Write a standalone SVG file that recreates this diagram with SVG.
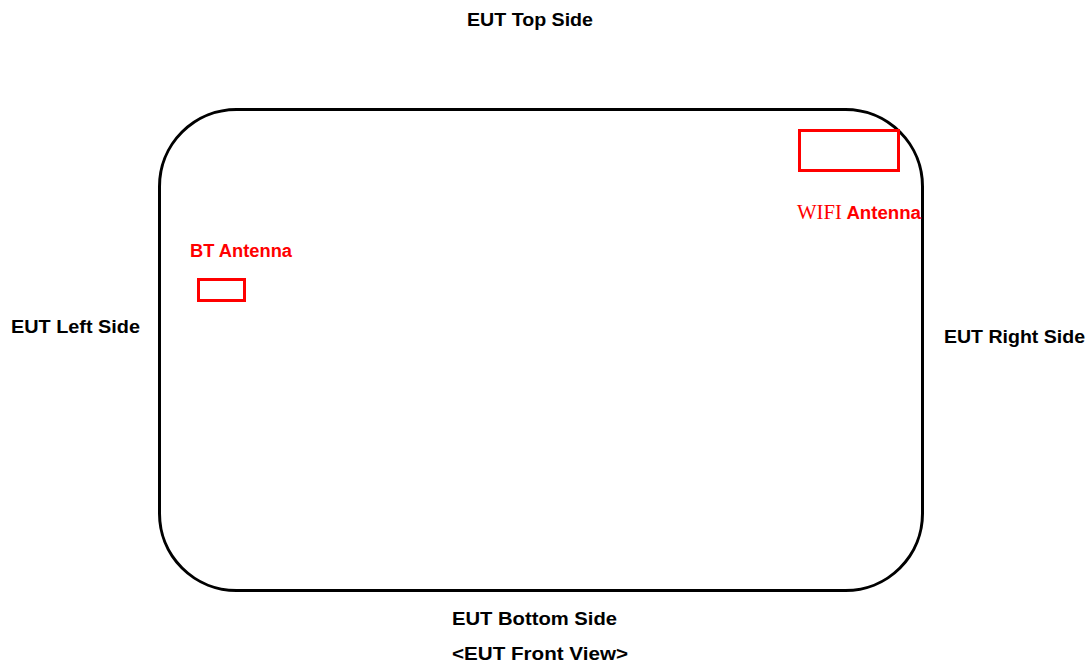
<svg xmlns="http://www.w3.org/2000/svg" width="1091" height="666" viewBox="0 0 1091 666">
<style>
.lbl{font-family:"Liberation Sans",Arial,sans-serif;font-weight:bold;font-size:19px;fill:#000}
.red{font-family:"Liberation Sans",Arial,sans-serif;font-weight:bold;font-size:18px;fill:#ff0000}
.ant{fill:none;stroke:#ff0000;stroke-width:3}
</style>
<rect width="1091" height="666" fill="#fff"/>
<g id="eut">
<rect x="159.5" y="109.5" width="763" height="481" rx="77" ry="77" fill="none" stroke="#000" stroke-width="3"/>
</g>
<g id="wifi-antenna">
<rect class="ant" x="799.5" y="130.5" width="99" height="40"/>
<text x="797" y="219" class="red" textLength="124" lengthAdjust="spacingAndGlyphs"><tspan style="font-family:'Liberation Serif','Times New Roman',serif;font-weight:normal;font-size:20px">WIFI</tspan> Antenna</text>
</g>
<g id="bt-antenna">
<rect class="ant" x="198.5" y="279.5" width="46" height="21"/>
<text x="190" y="257" class="red" textLength="102" lengthAdjust="spacingAndGlyphs">BT Antenna</text>
</g>
<g id="labels">
<text x="467" y="26" class="lbl" textLength="126" lengthAdjust="spacingAndGlyphs">EUT Top Side</text>
<text x="11" y="333" class="lbl" textLength="129" lengthAdjust="spacingAndGlyphs">EUT Left Side</text>
<text x="944" y="343" class="lbl" textLength="141" lengthAdjust="spacingAndGlyphs">EUT Right Side</text>
<text x="452" y="625" class="lbl" textLength="165" lengthAdjust="spacingAndGlyphs">EUT Bottom Side</text>
<text x="452" y="660" class="lbl" textLength="176" lengthAdjust="spacingAndGlyphs">&lt;EUT Front View&gt;</text>
</g>
<g id="connectors"/>
</svg>
